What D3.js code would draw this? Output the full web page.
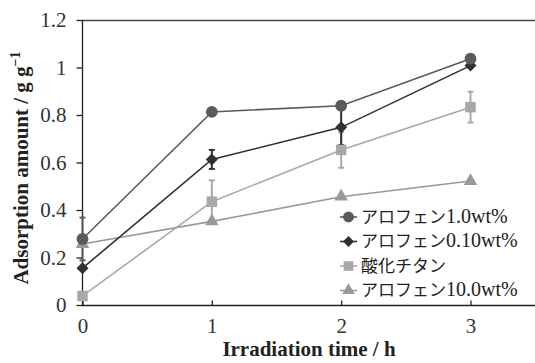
<!DOCTYPE html>
<html>
<head>
<meta charset="utf-8">
<script src="https://cdn.jsdelivr.net/npm/d3@7"></script>
<style>
  html, body { margin: 0; padding: 0; background: #fff; }
  svg { display: block; }
</style>
</head>
<body>
<svg id="chart" width="535" height="363"></svg>
<script>
// Irradiation time (h)
const hours = [0, 1, 2, 3];

// Adsorption amount (g/g) with error bars for each sample
const seriesNames = ["アロフェン1.0wt%", "アロフェン0.10wt%", "酸化チタン", "アロフェン10.0wt%"];
const allophane10Values = [0.278, 0.813, 0.839, 1.037];
const allophane10Errors = [0.09, 0, 0, 0];
const allophane010Values = [0.155, 0.613, 0.748, 1.008];
const allophane010Errors = [0, 0.04, 0.075, 0];
const titaniaValues = [0.038, 0.435, 0.653, 0.833];
const titaniaErrors = [0, 0.09, 0.075, 0.065];
const allophane100Values = [0.257, 0.352, 0.456, 0.522];
const allophane100Errors = [0, 0, 0, 0];

const yTicks = [0, 0.2, 0.4, 0.6, 0.8, 1, 1.2];
const xTicks = [0, 1, 2, 3];

const SERIF = "'Liberation Serif', 'Times New Roman', 'DejaVu Serif', serif";
const GOTHIC = "'Noto Sans CJK JP', sans-serif";

// a square turned 45°, used for the 0.10wt% series
const symbolRhombus = {
  draw(context, size) {
    const r = Math.sqrt(size / 2);
    context.moveTo(0, -r);
    context.lineTo(r, 0);
    context.lineTo(0, r);
    context.lineTo(-r, 0);
    context.closePath();
  }
};

const series = [
  { name: seriesNames[0], values: allophane10Values, errors: allophane10Errors, color: "#5a5a5a", shape: d3.symbolCircle, size: 110 },
  { name: seriesNames[1], values: allophane010Values, errors: allophane010Errors, color: "#303030", shape: symbolRhombus, size: 72 },
  { name: seriesNames[2], values: titaniaValues, errors: titaniaErrors, color: "#a8a8a8", shape: d3.symbolSquare, size: 110 },
  { name: seriesNames[3], values: allophane100Values, errors: allophane100Errors, color: "#999999", shape: d3.symbolTriangle, size: 80 }
];

const svg = d3.select("#chart");
const m = { left: 82, top: 20, right: 535, bottom: 305 };

const x = d3.scaleLinear().domain([0, 3]).range([82.5, 470.5]);
const y = d3.scaleLinear().domain([0, 1.2]).range([m.bottom, m.top]);

// top frame line
svg.append("line")
  .attr("x1", m.left).attr("x2", m.right)
  .attr("y1", m.top + 0.5).attr("y2", m.top + 0.5)
  .attr("stroke", "#444").attr("stroke-width", 1.3);

// y axis
const yAxis = svg.append("g")
  .attr("transform", `translate(${m.left + 0.5},0)`)
  .call(d3.axisLeft(y).tickValues(yTicks).tickSize(6).tickPadding(10)
    .tickFormat(d => d3.format("~g")(d)));
yAxis.attr("font-family", SERIF);
yAxis.selectAll("path, line").attr("stroke", "#222").attr("stroke-width", 1.3);
yAxis.select(".domain").attr("d", `M0,${m.top}V${m.bottom}`);
yAxis.selectAll("text").attr("font-size", 21).attr("fill", "#333").attr("font-family", SERIF);

// x axis
const xAxis = svg.append("g")
  .attr("transform", `translate(0,${m.bottom + 0.5})`)
  .call(d3.axisBottom(x).tickValues(xTicks).tickSize(-5).tickPadding(13)
    .tickFormat(d3.format("d")));
xAxis.attr("font-family", SERIF);
xAxis.select(".domain").attr("d", `M${m.left},0H${m.right}`);
xAxis.selectAll("path, line").attr("stroke", "#222").attr("stroke-width", 1.3);
xAxis.selectAll("text").attr("font-size", 21).attr("fill", "#333").attr("font-family", SERIF);

// axis titles
svg.append("text")
  .attr("transform", `translate(28,168) rotate(-90)`)
  .attr("text-anchor", "middle")
  .attr("font-family", SERIF)
  .attr("font-weight", "bold").attr("font-size", 21).attr("fill", "#222")
  .text("Adsorption amount / g g")
  .append("tspan").attr("dy", -8).attr("font-size", 14).text("−1");

svg.append("text")
  .attr("x", 309).attr("y", 356)
  .attr("text-anchor", "middle")
  .attr("font-family", SERIF)
  .attr("font-weight", "bold").attr("font-size", 21).attr("fill", "#222")
  .text("Irradiation time / h");

const line = d3.line().x((d, i) => x(hours[i])).y(d => y(d));

// lines (lighter series underneath)
const drawOrder = [3, 2, 1, 0];
drawOrder.forEach(k => {
  const s = series[k];
  svg.append("path")
    .attr("d", line(s.values))
    .attr("fill", "none").attr("stroke", s.color).attr("stroke-width", 1.6);
});

// error bars
drawOrder.forEach(k => {
  const s = series[k];
  const g = svg.append("g").attr("stroke", s.color).attr("stroke-width", 2);
  s.values.forEach((v, i) => {
    const e = s.errors[i];
    if (!e) return;
    const cx = x(hours[i]);
    g.append("line").attr("x1", cx).attr("x2", cx).attr("y1", y(v - e)).attr("y2", y(v + e));
    [v - e, v + e].forEach(t => {
      g.append("line").attr("x1", cx - 3).attr("x2", cx + 3).attr("y1", y(t)).attr("y2", y(t));
    });
  });
});

// markers
drawOrder.forEach(k => {
  const s = series[k];
  svg.append("g").selectAll("path")
    .data(s.values)
    .join("path")
    .attr("transform", (d, i) => `translate(${x(hours[i])},${y(d)})`)
    .attr("d", d3.symbol().type(s.shape).size(s.size))
    .attr("fill", s.color);
});

// legend: Japanese part in gothic, Latin part (digits, wt%) in serif
const legend = svg.append("g").attr("transform", "translate(340,217)");
series.forEach((s, i) => {
  const row = legend.append("g").attr("transform", `translate(0,${i * 24.5})`);
  row.append("line").attr("x1", 0).attr("x2", 17).attr("stroke", s.color).attr("stroke-width", 1.6);
  row.append("path").attr("transform", "translate(8.5,0)")
    .attr("d", d3.symbol().type(s.shape).size(s.size * 0.85)).attr("fill", s.color);
  const txt = row.append("text")
    .attr("x", 21).attr("y", 0).attr("dy", "0.36em")
    .attr("fill", "#222");
  const parts = s.name.match(/^([^\x00-\x7f]*)(.*)$/);
  txt.append("tspan").attr("font-family", GOTHIC).attr("font-size", 17).text(parts[1]);
  if (parts[2]) {
    txt.append("tspan").attr("font-family", SERIF).attr("font-size", 20).text(parts[2]);
  }
});
</script>
</body>
</html>
